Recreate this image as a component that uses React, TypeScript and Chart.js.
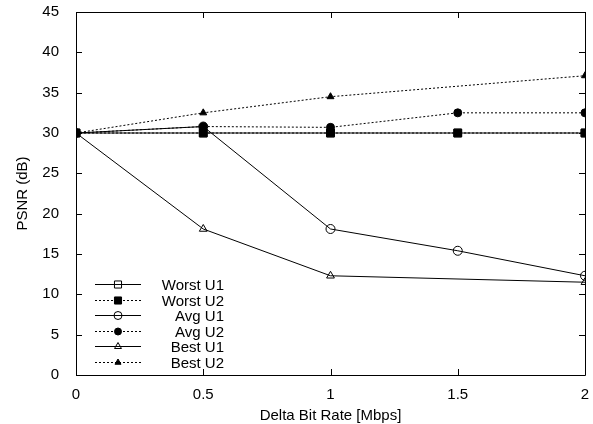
import React, { useEffect, useRef } from 'react';
import { Chart, registerables } from 'chart.js';
import { drawPoint } from 'chart.js/helpers';

Chart.register(...registerables);

const xValues = [0, 0.5, 1, 1.5, 2];
const worstU1 = [30, 30, 30, 30, 30];
const worstU2 = [30, 30, 30, 30, 30];
const avgU1 = [30, 30.8, 18.1, 15.4, 12.3];
const avgU2 = [30, 30.8, 30.7, 32.5, 32.5];
const bestU1: (number | null)[] = [30, 18.1, 12.3, null, 11.5];
const bestU2: (number | null)[] = [30, 32.5, 34.5, null, 37.1];
const seriesLabels = ['Worst U1', 'Worst U2', 'Avg U1', 'Avg U2', 'Best U1', 'Best U2'];
const xTickValues = [0, 0.5, 1, 1.5, 2];
const yTickValues = [0, 5, 10, 15, 20, 25, 30, 35, 40, 45];

const FONT = '"Liberation Sans", Arial, Helvetica, sans-serif';
const FS = 15;

const framePlugin = {
  id: 'frame',
  afterDatasetsDraw(chart: any) {
    const { ctx, chartArea } = chart;
    const { left, right, top, bottom } = chartArea;
    const xs = chart.scales.x;
    const ys = chart.scales.y;
    ctx.save();
    ctx.strokeStyle = '#000';
    ctx.lineWidth = 1;
    ctx.setLineDash([]);
    ctx.beginPath();
    ctx.rect(Math.round(left) + 0.5, Math.round(top) + 0.5, Math.round(right - left), Math.round(bottom - top));
    ctx.stroke();
    const tl = 6;
    ctx.beginPath();
    yTickValues.forEach((v) => {
      const y = Math.round(ys.getPixelForValue(v)) + 0.5;
      ctx.moveTo(left, y);
      ctx.lineTo(left + tl, y);
      ctx.moveTo(right, y);
      ctx.lineTo(right - tl, y);
    });
    xTickValues.forEach((v) => {
      const x = Math.round(xs.getPixelForValue(v)) + 0.5;
      ctx.moveTo(x, bottom);
      ctx.lineTo(x, bottom - tl);
      ctx.moveTo(x, top);
      ctx.lineTo(x, top + tl);
    });
    ctx.stroke();
    ctx.restore();
  },
};

const legendPlugin = {
  id: 'customLegend',
  afterDraw(chart: any) {
    const { ctx } = chart;
    const x0 = 95;
    const x1 = 141;
    const textRight = 224;
    const y0 = 284;
    const dy = 15.5;
    ctx.save();
    chart.data.datasets.forEach((ds: any, i: number) => {
      const y = Math.round(y0 + i * dy) + 0.5;
      ctx.strokeStyle = '#000';
      ctx.lineWidth = 1;
      ctx.setLineDash(ds.borderDash || []);
      ctx.beginPath();
      ctx.moveTo(x0, y);
      ctx.lineTo(x1, y);
      ctx.stroke();
      ctx.setLineDash([]);
      ctx.fillStyle = ds.pointBackgroundColor;
      ctx.strokeStyle = '#000';
      ctx.lineWidth = 1;
      drawPoint(ctx, { pointStyle: ds.pointStyle, rotation: 0, borderWidth: 1, radius: ds.pointRadius - 0.5 }, (x0 + x1) / 2, y);
      ctx.fillStyle = '#000';
      ctx.font = `${FS}px ${FONT}`;
      ctx.textAlign = 'right';
      ctx.textBaseline = 'middle';
      ctx.fillText(ds.label, textRight, y + 1);
    });
    ctx.restore();
  },
};

function mk(label: string, values: (number | null)[], dotted: boolean, style: string, filled: boolean, radius: number) {
  return {
    label,
    data: xValues.map((x, i) => ({ x, y: values[i] })),
    borderColor: '#000',
    borderWidth: 1,
    borderDash: dotted ? [2, 2] : [],
    pointStyle: style,
    pointRadius: radius,
    pointBorderWidth: 1,
    pointBorderColor: '#000',
    pointBackgroundColor: filled ? '#000' : 'rgba(0,0,0,0)',
    spanGaps: true,
    fill: false,
    tension: 0,
  };
}

export default function App() {
  const ref = useRef<HTMLCanvasElement>(null);
  useEffect(() => {
    document.body.style.margin = '0';
    const chart = new Chart(ref.current as HTMLCanvasElement, {
      type: 'line',
      data: {
        datasets: [
          mk(seriesLabels[0], worstU1, false, 'rect', false, 5.5),
          mk(seriesLabels[1], worstU2, true, 'rect', true, 5.5),
          mk(seriesLabels[2], avgU1, false, 'circle', false, 4.5),
          mk(seriesLabels[3], avgU2, true, 'circle', true, 4),
          mk(seriesLabels[4], bestU1, false, 'triangle', false, 4.5),
          mk(seriesLabels[5], bestU2, true, 'triangle', true, 4),
        ] as any,
      },
      options: {
        animation: false,
        responsive: false,
        layout: { padding: { left: 0, top: 12, right: 8, bottom: 0 } },
        plugins: { legend: { display: false }, tooltip: { enabled: false } },
        scales: {
          x: {
            type: 'linear',
            min: 0,
            max: 2,
            afterFit: (s: any) => { s.height = 49; s.paddingLeft = 0; s.paddingRight = 0; },
            afterBuildTicks: (s: any) => { s.ticks = xTickValues.map((v) => ({ value: v })); },
            grid: { display: false },
            border: { display: false },
            ticks: { color: '#000', font: { family: FONT, size: FS }, padding: 3, maxRotation: 0, callback: (v: any) => String(v) },
            title: { display: true, text: 'Delta Bit Rate [Mbps]', color: '#000', font: { family: FONT, size: FS }, padding: { top: 0, bottom: -1 } },
          },
          y: {
            type: 'linear',
            min: 0,
            max: 45,
            afterFit: (s: any) => { s.width = 76; s.paddingTop = 0; s.paddingBottom = 0; },
            afterBuildTicks: (s: any) => { s.ticks = yTickValues.map((v) => ({ value: v })); },
            grid: { display: false },
            border: { display: false },
            ticks: { color: '#000', font: { family: FONT, size: FS }, padding: 9, callback: (v: any) => String(v) },
            title: { display: true, text: 'PSNR (dB)', color: '#000', font: { family: FONT, size: FS }, padding: { top: 14, bottom: 0 } },
          },
        },
      },
      plugins: [framePlugin, legendPlugin],
    });
    return () => chart.destroy();
  }, []);
  return <canvas ref={ref} width={593} height={424} style={{ display: 'block', width: 593, height: 424 }} />;
}
